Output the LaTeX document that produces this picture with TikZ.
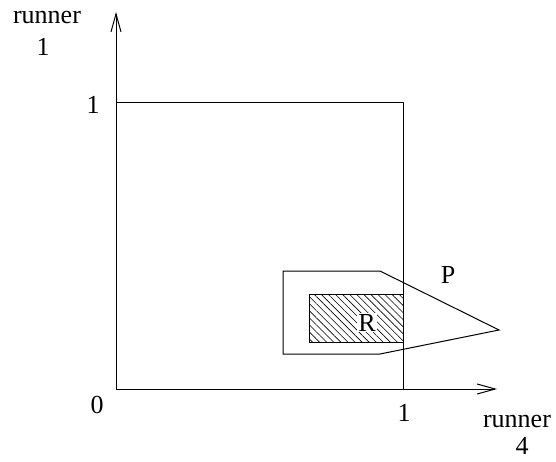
\documentclass[tikz,border=0pt]{standalone}
\usepackage{fontspec}
\setmainfont{Liberation Serif}
\usetikzlibrary{arrows.meta,patterns.meta}
\begin{document}
\begin{tikzpicture}[x=1pt,y=-1pt,line width=1pt,
  font=\fontsize{26}{31}\selectfont,
  axis/.style={-{Straight Barb[length=18pt,width=10pt]}},
  lbl/.style={inner sep=0pt,anchor=base}]
\useasboundingbox (0,0) rectangle (556,461);
\coordinate (O) at (116,389);
\coordinate (Y) at (116,12);
\coordinate (X) at (497,389);
\coordinate (S1) at (116,102);
\coordinate (S2) at (403,102);
\coordinate (S3) at (403,389);
\draw[axis] (O) -- (Y);
\draw[axis] (O) -- (X);
\draw (S1) -- (S2) -- (S3);
\fill[pattern={Lines[angle=-45,distance=5pt,line width=0.6pt]}] (309,294) rectangle (403,342);
\draw (309,294) rectangle (403,342);
\draw (283,271) -- (380,271) -- (499,330) -- (380,354) -- (283,354) -- cycle;
\node[lbl] (r1a) at (47,23) {runner};
\node[lbl] (r1b) at (43,55) {1};
\node[lbl] (r4a) at (517,427) {runner};
\node[lbl] (r4b) at (522,454) {4};
\node[lbl] (y1) at (93,113) {1};
\node[lbl] (x1) at (404,421) {1};
\node[lbl] (x0) at (97,413) {0};
\node[lbl] (P) at (448,283) {P};
\node[lbl,fill=white,inner sep=1pt] (R) at (367,331) {R};
\end{tikzpicture}
\end{document}
